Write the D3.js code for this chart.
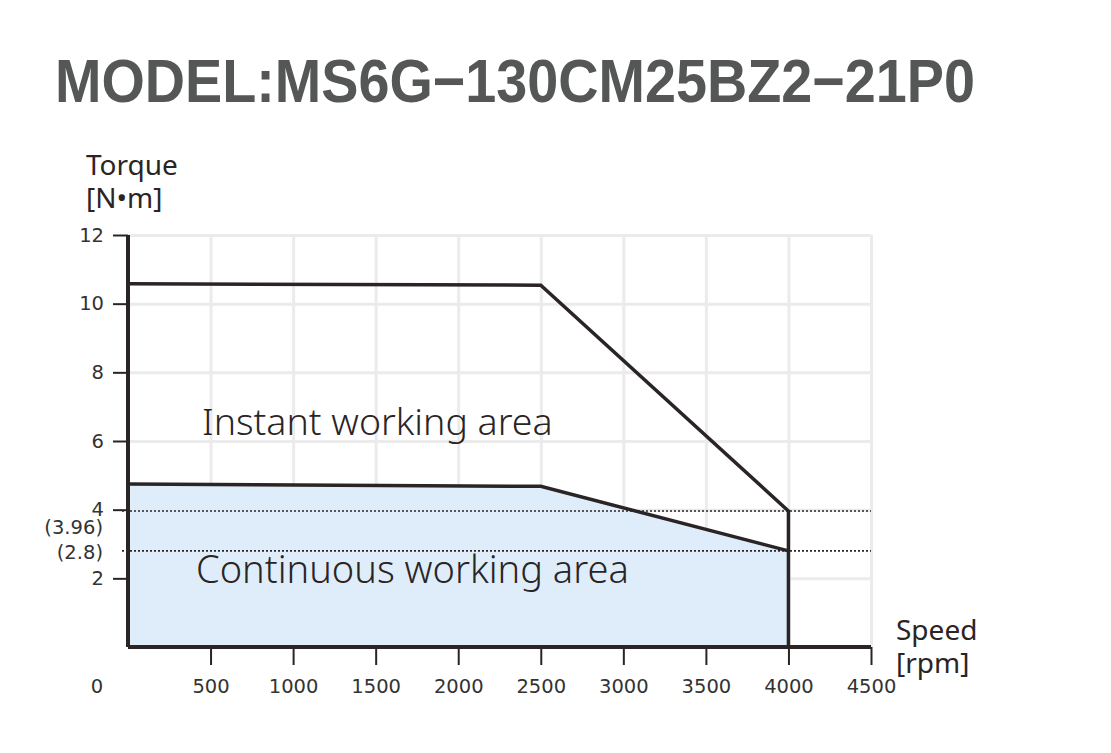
<!DOCTYPE html>
<html>
<head>
<meta charset="utf-8">
<script src="https://cdn.jsdelivr.net/npm/d3@7"></script>
<style>
  body { margin: 0; background: #fff; }
  svg { display: block; }
</style>
</head>
<body>
<svg id="chart" width="1111" height="753"></svg>
<script>
// chart values
var speedTicks = [0, 500, 1000, 1500, 2000, 2500, 3000, 3500, 4000, 4500];
var torqueTicks = [2, 4, 6, 8, 10, 12];
var instantSpeed = [0, 2500, 4000, 4000];
var instantTorque = [10.58, 10.54, 3.96, 0];
var continuousSpeed = [0, 2500, 4000, 4000];
var continuousTorque = [4.75, 4.68, 2.8, 0];
var refValues = [3.96, 2.8];
var refLabels = ["(3.96)", "(2.8)"];

var svg = d3.select("#chart"),
    marginLeft = 128, marginTop = 235,
    width = 743, height = 412;

var ink = "#2b2425",
    titleFont = "'Liberation Sans', Arial, sans-serif",
    labelFont = "'DejaVu Sans', sans-serif",
    textFont = "'Noto Sans', 'Open Sans', sans-serif";

svg.append("text")
    .attr("x", 55)
    .attr("y", 102)
    .attr("font-family", titleFont)
    .attr("font-weight", "bold")
    .attr("font-size", "61px")
    .attr("fill", "#545756")
    .attr("textLength", 920)
    .attr("lengthAdjust", "spacingAndGlyphs")
    .text("MODEL:MS6G\u2212130CM25BZ2\u221221P0");

var xScale = d3.scaleLinear().domain([0, 4500]).range([0, width]),
    yScale = d3.scaleLinear().domain([0, 12]).range([height, 0]);

var g = svg.append("g")
    .attr("transform", "translate(" + marginLeft + "," + marginTop + ")");

// grid
g.append("g")
    .attr("transform", "translate(0," + height + ")")
    .call(d3.axisBottom(xScale).tickValues(speedTicks.slice(1)).tickSize(-height).tickFormat(""))
    .call(function (s) { s.select(".domain").remove(); })
    .selectAll("line").attr("stroke", "#ebebeb").attr("stroke-width", 3);

g.append("g")
    .call(d3.axisLeft(yScale).tickValues(torqueTicks).tickSize(-width).tickFormat(""))
    .call(function (s) { s.select(".domain").remove(); })
    .selectAll("line").attr("stroke", "#ebebeb").attr("stroke-width", 3);

// continuous area fill
var contPts = continuousSpeed.map(function (d, i) { return [d, continuousTorque[i]]; });
var instPts = instantSpeed.map(function (d, i) { return [d, instantTorque[i]]; });

var area = d3.area()
    .x(function (d) { return xScale(d[0]); })
    .y0(yScale(0))
    .y1(function (d) { return yScale(d[1]); });

g.append("path")
    .datum(contPts.slice(0, 3))
    .attr("d", area)
    .attr("fill", "#deedf9");

// reference dotted lines
refValues.forEach(function (v, i) {
    g.append("line")
        .attr("x1", -6)
        .attr("x2", width)
        .attr("y1", yScale(v))
        .attr("y2", yScale(v))
        .attr("stroke", ink)
        .attr("stroke-width", 1.6)
        .attr("stroke-dasharray", "2,2");
    g.append("text")
        .attr("x", -25)
        .attr("y", yScale(v) + (i == 0 ? 17 : 3))
        .attr("text-anchor", "end")
        .attr("dominant-baseline", "middle")
        .attr("font-family", labelFont)
        .attr("font-size", "19.5px")
        .attr("fill", "#333")
        .text(refLabels[i]);
});

var line = d3.line()
    .x(function (d) { return xScale(d[0]); })
    .y(function (d) { return yScale(d[1]); });

g.append("path")
    .datum(instPts)
    .attr("d", line)
    .attr("fill", "none")
    .attr("stroke", ink)
    .attr("stroke-width", 3.5);

g.append("path")
    .datum(contPts.slice(0, 3))
    .attr("d", line)
    .attr("fill", "none")
    .attr("stroke", ink)
    .attr("stroke-width", 3.5);

// x axis
var xAxis = g.append("g")
    .attr("transform", "translate(0," + height + ")")
    .call(d3.axisBottom(xScale).tickValues(speedTicks.slice(1)).tickSize(18).tickPadding(14).tickFormat(d3.format("d")));
xAxis.select(".domain").attr("stroke", ink).attr("stroke-width", 4)
    .attr("d", "M0,0H" + width);
xAxis.selectAll("line").attr("stroke", ink).attr("stroke-width", 2);
xAxis.selectAll("text")
    .attr("font-family", labelFont)
    .attr("font-size", "19.5px")
    .attr("fill", "#333");

g.append("text")
    .attr("x", xScale(0) - 31)
    .attr("y", height + 46)
    .attr("text-anchor", "middle")
    .attr("font-family", labelFont)
    .attr("font-size", "19.5px")
    .attr("fill", "#333")
    .text(speedTicks[0]);

// y axis
var yAxis = g.append("g")
    .call(d3.axisLeft(yScale).tickValues(torqueTicks).tickSize(15).tickPadding(9));
yAxis.select(".domain").attr("stroke", ink).attr("stroke-width", 4)
    .attr("d", "M0," + height + "V0");
yAxis.selectAll("line").attr("stroke", ink).attr("stroke-width", 2);
yAxis.selectAll("text")
    .attr("font-family", labelFont)
    .attr("font-size", "19.5px")
    .attr("fill", "#333");

// area labels
g.append("text")
    .attr("x", 74)
    .attr("y", 200)
    .attr("font-family", textFont)
    .attr("font-weight", 300)
    .attr("font-size", "37.5px")
    .attr("fill", "#2b2425")
    .text("Instant working area");

g.append("text")
    .attr("x", 68)
    .attr("y", 348)
    .attr("font-family", textFont)
    .attr("font-weight", 300)
    .attr("font-size", "38px")
    .attr("fill", "#2b2425")
    .text("Continuous working area");

// axis titles
var titles = [
    { x: 86, y: 175, t: "Torque" },
    { x: 86, y: 208, t: "[N\u2022m]" },
    { x: 896, y: 640, t: "Speed" },
    { x: 896, y: 673, t: "[rpm]" }
];
titles.forEach(function (d) {
    svg.append("text")
        .attr("x", d.x)
        .attr("y", d.y)
        .attr("font-family", textFont)
        .attr("font-size", "28px")
        .attr("fill", "#2b2425")
        .text(d.t);
});
</script>
</body>
</html>
